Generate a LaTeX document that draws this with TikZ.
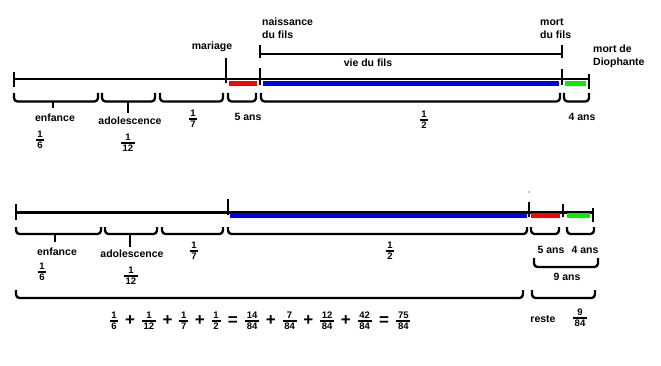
\documentclass[tikz,border=0pt]{standalone}
\usepackage{amsmath}
\usepackage{fontspec}
\setmainfont{Liberation Sans}
\definecolor{pRed}{RGB}{255,0,0}
\definecolor{pBlue}{RGB}{0,0,240}
\definecolor{pGreen}{RGB}{0,240,0}
\newcommand{\frfont}{\fontsize{9.5}{9.5}\selectfont\bfseries}
\newcommand{\fr}[2]{\ensuremath{\vcenter{\offinterlineskip\halign{\hfil\kern1.8pt##\kern1.8pt\hfil\cr\frfont #1\cr\noalign{\kern1.3pt\hrule height 1.8pt\kern1.3pt}\frfont #2\cr}}}}
\newcommand{\PL}{\mathbin{\kern4.5pt\vcenter{\hbox{\fontsize{17}{17}\selectfont\bfseries +}}\kern4.5pt}}
\newcommand{\EQ}{\mathrel{\kern4.5pt\vcenter{\hbox{\fontsize{17}{17}\selectfont\bfseries =}}\kern4.5pt}}
\begin{document}
\begin{tikzpicture}[x=1pt,y=-1pt,
  base/.style={line width=2.6pt},
  bar/.style={line width=4.5pt},
  tick/.style={line width=2.6pt},
  brc/.style={line width=2.3pt, rounded corners=3.5pt},
  lbl/.style={font=\fontsize{10.5}{13}\selectfont\bfseries, inner sep=0pt, align=left},
  frn/.style={inner sep=0pt}]
\useasboundingbox (0,0) rectangle (661,366);
% ---------- top timeline ----------
\draw[base] (14,79) -- (589,79);
\draw[tick] (14,72) -- (14,87);
\draw[tick] (226,58) -- (226,83);
\draw[tick] (260,68) -- (260,85);
\draw[tick] (562,69) -- (562,85);
\draw[tick] (589,74) -- (589,89);
% vie du fils
\draw[tick] (260,45) -- (260,58);
\draw[base] (260,54) -- (562,54);
\draw[tick] (562,45) -- (562,58);
% coloured bars
\draw[bar,pRed] (229,83.5) -- (257,83.5);
\draw[bar,pBlue] (263,83.5) -- (559,83.5);
\draw[bar,pGreen] (565,83.5) -- (586,83.5);
% braces
\draw[brc] (14,93) |- (98,101.5) -- (98,93);
\draw[brc] (102,93) |- (155,101.5) -- (155,93);
\draw[brc] (160,93) |- (223,101.5) -- (223,93);
\draw[brc] (228,93) |- (256,101.5) -- (256,93);
\draw[brc] (261,93) |- (560,101.5) -- (560,93);
\draw[brc] (564,93) |- (589,101.5) -- (589,93);
\draw[tick] (53,101.5) -- (53,108);
\draw[tick] (128,101.5) -- (128,113);
% labels
\node[lbl] (mar) at (212,47) {mariage};
\node[lbl,anchor=west] (nai) at (262,28.5) {naissance\\du fils};
\node[lbl,anchor=west] (mfi) at (540,28.5) {mort\\du fils};
\node[lbl,anchor=west] (mdi) at (593,56) {mort de\\Diophante};
\node[lbl] (vie) at (368,63) {vie du fils};
\node[lbl] (enf1) at (55,118) {enfance};
\node[lbl] (ado1) at (130,121) {adolescence};
\node[frn] (f61) at (40,140) {\fr{1}{6}};
\node[frn] (f121) at (128,143) {\fr{1}{12}};
\node[frn] (f71) at (193,119) {\fr{1}{7}};
\node[lbl] (cinq1) at (248,117) {5 ans};
\node[frn] (f21) at (424,120) {\fr{1}{2}};
\node[lbl] (quat1) at (582,117) {4 ans};
% ---------- bottom timeline ----------
\draw[base] (16,212.3) -- (593,212.3);
\draw[tick] (16,204) -- (16,220);
\draw[tick] (228,199) -- (228,215);
\draw[tick] (529,202) -- (529,217);
\draw[tick] (563,204) -- (563,217);
\draw[tick] (593,208) -- (593,222);
\fill (529,192) circle (0.6);
\draw[bar,pBlue] (230,215.5) -- (527,215.5);
\draw[bar,pRed] (531,215.5) -- (560,215.5);
\draw[bar,pGreen] (567,215.5) -- (590,215.5);
\draw[brc] (16,227) |- (101,234) -- (101,227);
\draw[brc] (105,227) |- (157,234) -- (157,227);
\draw[brc] (162,227) |- (223,234) -- (223,227);
\draw[brc] (228,227) |- (527,234) -- (527,227);
\draw[brc] (531,227) |- (559,234) -- (559,227);
\draw[brc] (567,227) |- (594,234) -- (594,227);
\draw[tick] (55,234) -- (55,242);
\draw[tick] (130,234) -- (130,247);
\draw[brc] (534,258) |- (598,267) -- (598,258);
\draw[brc] (16,290) |- (523,298) -- (523,290);
\draw[brc] (532,290) |- (595,298) -- (595,290);
\node[lbl] (enf2) at (57,252) {enfance};
\node[lbl] (ado2) at (132,254) {adolescence};
\node[frn] (f62) at (42,272) {\fr{1}{6}};
\node[frn] (f122) at (131,276) {\fr{1}{12}};
\node[frn] (f72) at (194,251) {\fr{1}{7}};
\node[frn] (f22) at (390,251) {\fr{1}{2}};
\node[lbl] (cinq2) at (551,250) {5 ans};
\node[lbl] (quat2) at (585,250) {4 ans};
\node[lbl] (neuf) at (567,277) {9 ans};
\node[lbl] (reste) at (543,319) {reste};
\node[frn] (f984) at (580,318) {\fr{9}{84}};
\node[frn] (eq) at (260,321) {$\fr{1}{6}\PL\fr{1}{12}\PL\fr{1}{7}\PL\fr{1}{2}\EQ\fr{14}{84}\PL\fr{7}{84}\PL\fr{12}{84}\PL\fr{42}{84}\EQ\fr{75}{84}$};
\end{tikzpicture}
\end{document}
